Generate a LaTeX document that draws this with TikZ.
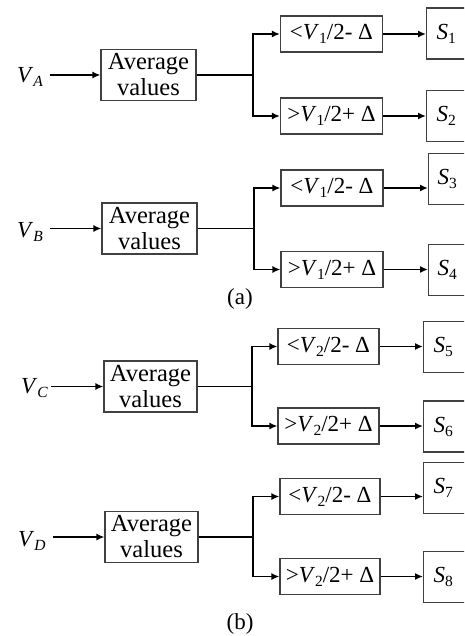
\documentclass[tikz,border=0pt]{standalone}
\usepackage{fontspec}
\setmainfont{Liberation Serif}
\usetikzlibrary{arrows.meta}
\newcommand{\lo}[1]{\raisebox{-4pt}{\fontsize{15.5}{16}\selectfont #1}}
\newcommand{\lt}[1]{\textless\textit{V}\lo{#1}/2- \symbol{"0394}}
\newcommand{\gt}[1]{\textgreater\textit{V}\lo{#1}/2+ \symbol{"0394}}
\begin{document}
\begin{tikzpicture}[x=1pt,y=-1pt,
  font=\fontsize{23}{27}\selectfont,
  box/.style={draw=black!75, line width=1.1pt, inner sep=0pt},
  avg/.style={box, minimum width=95pt, minimum height=51pt, align=center, font=\fontsize{24.5}{26}\selectfont},
  cmp/.style={box, minimum width=102pt, minimum height=36pt},
  sbox/.style={box, minimum height=51pt, anchor=west, text width=52pt, align=left},
  lbl/.style={inner sep=0pt, anchor=base west},
  conn/.style={line width=1.9pt},
  arr/.style={conn, -{Latex[length=8pt,width=7pt]}}
]
\useasboundingbox (0,0) rectangle (464,636);
\begin{scope}
\clip (0,0) rectangle (464,636);
% ---------- group A ----------
\node[lbl] (VA) at (17,83) {\textit{V}\lo{\textit{A}}};
\node[avg] (avgA) at (148.5,75) {Average\\values};
\coordinate (jA) at (253,75);
\node[cmp] (cA1) at (331.5,34) {\lt{1}};
\node[cmp] (cA2) at (331.5,116) {\gt{1}};
\node[sbox] (S1) at (426,33.5) {\hspace*{10pt}\textit{S}\lo{1}};
\node[sbox] (S2) at (426,116) {\hspace*{10pt}\textit{S}\lo{2}};
\draw[arr] ([xshift=7pt]VA.east |- avgA.west) -- (avgA.west);
\draw[conn] (avgA.east) -- (jA);
\draw[arr] (jA) |- (cA1.west);
\draw[arr] (jA) |- (cA2.west);
\draw[arr] (cA1.east) -- (cA1.east -| S1.west);
\draw[arr] (cA2.east) -- (cA2.east -| S2.west);
% ---------- group B ----------
\node[lbl] (VB) at (17,237) {\textit{V}\lo{\textit{B}}};
\node[avg] (avgB) at (149.5,228.5) {Average\\values};
\coordinate (jB) at (254,228.5);
\node[cmp] (cB1) at (332,188) {\lt{1}};
\node[cmp] (cB2) at (332,269.5) {\gt{1}};
\node[sbox] (S3) at (428,179) {\hspace*{9pt}\textit{S}\lo{3}};
\node[sbox] (S4) at (428,270) {\hspace*{9pt}\textit{S}\lo{4}};
\draw[arr] ([xshift=7pt]VB.east |- avgB.west) -- (avgB.west);
\draw[conn] (avgB.east) -- (jB);
\draw[arr] (jB) |- (cB1.west);
\draw[arr] (jB) |- (cB2.west);
\draw[arr] (cB1.east) -- (cB1.east -| S3.west);
\draw[arr] (cB2.east) -- (cB2.east -| S4.west);
\node (la) at (240,299) {(a)};
% ---------- group C ----------
\node[lbl] (VC) at (21,393) {\textit{V}\lo{\textit{C}}};
\node[avg, minimum width=93pt] (avgC) at (150.5,386.5) {Average\\values};
\coordinate (jC) at (252,386.5);
\node[cmp, minimum width=101pt] (cC1) at (328.5,346.5) {\lt{2}};
\node[cmp, minimum width=101pt] (cC2) at (328.5,426) {\gt{2}};
\node[sbox] (S5) at (423,347) {\hspace*{10pt}\textit{S}\lo{5}};
\node[sbox] (S6) at (423,426.5) {\hspace*{10pt}\textit{S}\lo{6}};
\draw[arr] ([xshift=3pt]VC.east |- avgC.west) -- (avgC.west);
\draw[conn] (avgC.east) -- (jC);
\draw[arr] (jC) |- (cC1.west);
\draw[arr] (jC) |- (cC2.west);
\draw[arr] (cC1.east) -- (cC1.east -| S5.west);
\draw[arr] (cC2.east) -- (cC2.east -| S6.west);
% ---------- group D ----------
\node[lbl] (VD) at (18,546) {\textit{V}\lo{\textit{D}}};
\node[avg, minimum width=93pt] (avgD) at (151.5,537) {Average\\values};
\coordinate (jD) at (253,537);
\node[cmp, minimum width=100pt] (cD1) at (330,496.5) {\lt{2}};
\node[cmp, minimum width=100pt] (cD2) at (330,576.5) {\gt{2}};
\node[sbox] (S7) at (423,488) {\hspace*{10pt}\textit{S}\lo{7}};
\node[sbox] (S8) at (423,577) {\hspace*{10pt}\textit{S}\lo{8}};
\draw[arr] ([xshift=7pt]VD.east |- avgD.west) -- (avgD.west);
\draw[conn] (avgD.east) -- (jD);
\draw[arr] (jD) |- (cD1.west);
\draw[arr] (jD) |- (cD2.west);
\draw[arr] (cD1.east) -- (cD1.east -| S7.west);
\draw[arr] (cD2.east) -- (cD2.east -| S8.west);
\node (lb) at (240,624) {(b)};
\end{scope}
\end{tikzpicture}
\end{document}
